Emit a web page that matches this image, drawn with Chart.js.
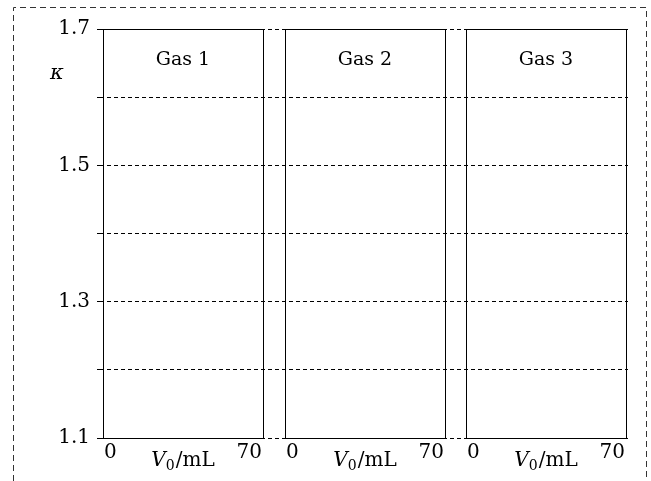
<!DOCTYPE html>
<html>
<head>
<meta charset="utf-8">
<script src="https://cdn.jsdelivr.net/npm/chart.js@4"></script>
<style>
  body { margin: 0; background: #fff; }
</style>
</head>
<body>
<canvas id="chart" width="651" height="481"></canvas>
<script>
// panels and axes (no data points in the figure)
const gasNames = ["Gas 1", "Gas 2", "Gas 3"];
const volumeTicks = [0, 70];
const kappaMin = 1.1;
const kappaMax = 1.7;
const kappaStep = 0.1;
const kappaLabels = [1.1, 1.3, 1.5, 1.7];

const serif = "'DejaVu Serif', serif";

// outer dashed frame + white background
const frame = {
  id: "frame",
  beforeDraw(chart) {
    const ctx = chart.ctx;
    ctx.save();
    ctx.fillStyle = "#fff";
    ctx.fillRect(0, 0, chart.width, chart.height);
    ctx.strokeStyle = "#333";
    ctx.lineWidth = 1;
    ctx.setLineDash([6, 4]);
    ctx.beginPath();
    ctx.moveTo(13.5, chart.height);
    ctx.lineTo(13.5, 7.5);
    ctx.lineTo(646.5, 7.5);
    ctx.lineTo(646.5, chart.height);
    ctx.stroke();
    ctx.restore();
  }
};

// three panels, titles, x labels, kappa label
const panels = {
  id: "panels",
  afterDraw(chart) {
    const ctx = chart.ctx;
    const a = chart.chartArea;
    const y = chart.scales.y;
    const top = Math.round(y.getPixelForValue(kappaMax));
    const bot = Math.round(y.getPixelForValue(kappaMin));
    const inL = 3, inR = 2, gap = 21.5;
    const pw = (a.right - a.left - inL - inR - 2 * gap) / gasNames.length;
    ctx.save();
    gasNames.forEach((name, i) => {
      const x0 = Math.round(a.left + inL + i * (pw + gap));
      const x1 = Math.round(x0 + pw);
      ctx.strokeStyle = "#000";
      ctx.lineWidth = 1;
      ctx.setLineDash([]);
      ctx.strokeRect(x0 + 0.5, top + 0.5, x1 - x0, bot - top);

      ctx.fillStyle = "#000";
      ctx.font = "19px " + serif;
      ctx.textAlign = "center";
      ctx.textBaseline = "alphabetic";
      ctx.fillText(name, (x0 + x1) / 2, top + 36);

      // x tick labels
      ctx.font = "20px " + serif;
      ctx.textAlign = "left";
      ctx.fillText(String(volumeTicks[0]), x0 + 1, bot + 20);
      ctx.textAlign = "right";
      ctx.fillText(String(volumeTicks[1]), x1 - 1, bot + 20);

      // V0/mL
      const f1 = "italic 20px " + serif;
      const f2 = "14px " + serif;
      const f3 = "20px " + serif;
      ctx.font = f1; const wV = ctx.measureText("V").width;
      ctx.font = f2; const w0 = ctx.measureText("0").width;
      ctx.font = f3; const wR = ctx.measureText("/mL").width;
      let x = (x0 + x1) / 2 - (wV + w0 + 1 + wR) / 2;
      const base = bot + 28;
      ctx.textAlign = "left";
      ctx.font = f1; ctx.fillText("V", x, base); x += wV;
      ctx.font = f2; ctx.fillText("0", x, base + 4); x += w0 + 1;
      ctx.font = f3; ctx.fillText("/mL", x, base);
    });
    ctx.font = "italic 21px " + serif;
    ctx.textAlign = "center";
    ctx.fillText("\u03BA", 57, 79);
    ctx.restore();
  }
};

new Chart(document.getElementById("chart"), {
  type: "scatter",
  data: { datasets: [] },
  plugins: [frame, panels],
  options: {
    responsive: false,
    animation: false,
    events: [],
    layout: { padding: { left: 12, right: 23, top: 29, bottom: 43 } },
    plugins: { legend: { display: false }, tooltip: { enabled: false } },
    scales: {
      x: { type: "linear", display: false, min: 0, max: 1 },
      y: {
        type: "linear",
        min: kappaMin,
        max: kappaMax,
        afterFit(scale) { scale.width = 88; },
        // dashed horizontal grid
        border: { display: false, dash: [4, 3] },
        grid: {
          color: "#000",
          lineWidth: 1,
          tickLength: 3,
          tickColor: "#000",
          tickBorderDash: [4, 3]
        },
        ticks: {
          stepSize: kappaStep,
          padding: 7,
          color: "#000",
          font: { family: "DejaVu Serif", size: 20 },
          callback(v) {
            return kappaLabels.some(t => Math.abs(t - v) < 1e-6) ? v.toFixed(1) : "";
          }
        }
      }
    }
  }
});
</script>
</body>
</html>
